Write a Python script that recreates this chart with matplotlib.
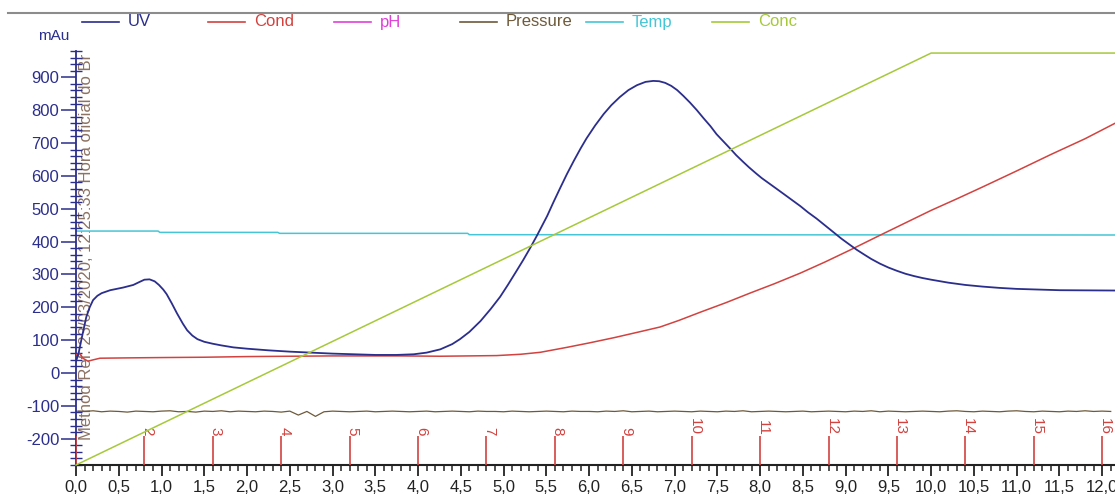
import matplotlib
matplotlib.use("Agg")
import matplotlib.pyplot as plt
from matplotlib.lines import Line2D
from matplotlib.ticker import MultipleLocator, FixedLocator

# ---------------- data ----------------
uv_t = [0.0, 0.03, 0.07, 0.12, 0.16, 0.2, 0.25, 0.3, 0.4, 0.55, 0.67, 0.75, 0.8, 0.86, 0.92,
        0.97, 1.02, 1.06, 1.12, 1.18, 1.25, 1.3, 1.36, 1.42, 1.5, 1.6, 1.7, 1.84, 2.0, 2.25,
        2.5, 2.75, 3.0, 3.25, 3.5, 3.75, 3.95, 4.1, 4.26, 4.4, 4.49, 4.6, 4.73, 4.85, 4.96,
        5.05, 5.15, 5.23, 5.31, 5.39, 5.45, 5.51, 5.58, 5.66, 5.74, 5.82, 5.9, 5.97, 6.07, 6.17,
        6.26, 6.36, 6.46, 6.56, 6.66, 6.75, 6.82, 6.89, 6.96, 7.03, 7.1, 7.18, 7.26, 7.34, 7.42,
        7.49, 7.57, 7.65, 7.72, 7.8, 7.87, 7.95, 8.02, 8.1, 8.18, 8.27, 8.37, 8.47, 8.56, 8.66,
        8.76, 8.86, 8.95, 9.05, 9.13, 9.22, 9.3, 9.4, 9.5, 9.6, 9.7, 9.8, 9.9, 10.0, 10.2,
        10.4, 10.6, 10.8, 11.0, 11.5, 12.15]
uv_v = [35, 60, 110, 170, 200, 222, 235, 243, 252, 260, 268, 278, 284, 285, 279,
        268, 254, 240, 212, 182, 150, 130, 114, 103, 95, 89, 84, 78, 74, 69,
        65, 62, 59, 57, 55, 55, 57, 62, 72, 88, 103, 125, 158, 195, 232,
        268, 310, 344, 380, 418, 448, 478, 518, 562, 605, 645, 683, 714, 753, 788,
        815, 840, 861, 876, 886, 889, 888, 883, 874, 861, 844, 823, 800, 775, 751,
        727, 705, 683, 663, 643, 626, 608, 593, 578, 563, 546, 527, 508, 489, 470,
        449, 428, 409, 390, 375, 360, 347, 333, 321, 311, 302, 295, 289, 284, 275,
        268, 263, 259, 256, 252, 251]

cond_t = [0.0, 0.04, 0.08, 0.14, 0.2, 0.28, 0.6, 1.0, 1.5, 2.0, 2.5, 3.0, 3.8, 4.26, 4.92,
          5.2, 5.43, 5.74, 6.01, 6.3, 6.6, 6.83, 7.05, 7.3, 7.6, 7.88, 8.17, 8.47, 8.76, 9.05,
          9.4, 9.7, 10.0, 10.3, 10.6, 11.0, 11.4, 11.8, 12.15]
cond_v = [55, 60, 45, 36, 40, 45, 46, 47, 48, 50, 51, 52, 52, 51, 53,
          57, 63, 78, 92, 108, 126, 140, 160, 185, 214, 243, 272, 304, 338, 374,
          419, 457, 495, 530, 566, 615, 665, 713, 760]

temp_t = [0.0, 0.96, 0.98, 2.36, 2.38, 4.58, 4.6, 12.15]
temp_v = [432, 432, 428, 428, 425, 425, 421, 420]

pres_t = [i / 10 for i in range(0, 122)]
pres_v = [-116, -117, -115, -118, -116, -117, -119, -116, -117, -118,
          -116, -115, -118, -117, -119, -116, -117, -115, -118, -116,
          -117, -118, -116, -117, -119, -116, -128, -117, -132, -118,
          -116, -117, -118, -117, -116, -118, -117, -116, -117, -118,
          -117, -116, -118, -117, -116, -117, -118, -116, -117, -117,
          -118, -116, -117, -118, -117, -116, -117, -118, -116, -117,
          -117, -118, -116, -117, -115, -118, -117, -116, -118, -117,
          -116, -117, -118, -116, -117, -118, -116, -117, -115, -118,
          -117, -116, -117, -118, -117, -116, -118, -117, -116, -117,
          -118, -116, -117, -115, -118, -116, -117, -118, -117, -116,
          -117, -118, -116, -115, -117, -118, -116, -117, -118, -116,
          -115, -117, -118, -116, -117, -118, -116, -117, -115, -117,
          -116, -117]

conc_t = [0.0, 10.0, 12.15]
conc_v = [0.0, 100.0, 100.0]

frac_t = [0.0, 0.8, 1.6, 2.4, 3.2, 4.0, 4.8, 5.6, 6.4, 7.2, 8.0, 8.8, 9.6, 10.4, 11.2, 12.0]
frac_labels = ["1", "2", "3", "4", "5", "6", "7", "8", "9", "10", "11", "12", "13", "14", "15", "16"]

x_ticks = [i * 0.5 for i in range(25)]
x_ticklabels = [f"{v:.1f}".replace(".", ",") for v in x_ticks]
y_ticks = list(range(-200, 1000, 100))
y_ticklabels = [str(v) for v in y_ticks]

series_names = ["UV", "Cond", "pH", "Pressure", "Temp", "Conc"]
series_colors = ["#2B2E8C", "#D2423F", "#E040D8", "#6E5A3A", "#45C6D6", "#A6C93A"]
c_uv, c_cond, c_ph, c_pres, c_temp, c_conc = series_colors

# ---------------- figure ----------------
fig = plt.figure(figsize=(11.15, 4.95), dpi=100)
ax = fig.add_axes([76 / 1115, 30 / 495, 1039 / 1115, 414 / 495])
ax.set_xlim(0, 12.15)
ax.set_ylim(-280, 980)

lw = 1.1
ax.plot(temp_t, temp_v, color=c_temp, lw=lw, zorder=2)
ax.plot(pres_t, pres_v, color=c_pres, lw=0.9, zorder=2)
ax.plot(cond_t, cond_v, color=c_cond, lw=lw, zorder=3)
ax.plot(uv_t, uv_v, color=c_uv, lw=1.3, zorder=4)

ax2 = ax.twinx()
ax2.set_ylim(0, 100.5)
ax2.plot(conc_t, conc_v, color=c_conc, lw=lw, zorder=2, clip_on=False)
ax2.set_axis_off()

# fraction marks
ax.vlines(frac_t, -280, -193, color=c_cond, lw=1.2, zorder=3)
for t, lab in zip(frac_t[1:], frac_labels[1:]):
    ax.text(t + 0.035, -190, lab, rotation=-90, ha="center", va="bottom",
            color=c_cond, fontsize=11, family="Liberation Sans")

# run annotation
ax.text(0.03, -205, "Method Ref. 23/03/2020, 12:25:33 Hora oficial do Br",
        rotation=90, rotation_mode="anchor", ha="left", va="top",
        color="#8C7262", fontsize=12, family="Liberation Sans", clip_on=True, zorder=1)

# spines
for s in ["top", "right"]:
    ax.spines[s].set_visible(False)
ax.spines["left"].set_color(c_uv)
ax.spines["left"].set_linewidth(1.3)
ax.spines["bottom"].set_color("#222222")
ax.spines["bottom"].set_linewidth(1.5)

ax.xaxis.set_major_locator(FixedLocator(x_ticks))
ax.set_xticklabels(x_ticklabels, fontsize=12, family="Liberation Sans", color="#222222")
ax.xaxis.set_minor_locator(MultipleLocator(0.1))
ax.tick_params(axis="x", which="major", direction="out", length=8, width=1.3, color="#222222", pad=3)
ax.tick_params(axis="x", which="minor", direction="out", length=4.5, width=1.1, color="#222222")

ax.yaxis.set_major_locator(FixedLocator(y_ticks))
ax.set_yticklabels(y_ticklabels, fontsize=12, family="Liberation Sans", color=c_uv)
ax.yaxis.set_minor_locator(MultipleLocator(20))
ax.tick_params(axis="y", which="major", direction="out", length=11, width=1.1, color=c_uv, pad=1)
ax.tick_params(axis="y", which="minor", direction="inout", length=9, width=1.0, color=c_uv)

fig.text(38 / 1115, 1 - 36 / 495, "mAu", color=c_uv, fontsize=11,
         family="Liberation Sans", va="center", ha="left")

# top frame line
fig.add_artist(Line2D([8 / 1115, 1.0], [1 - 13 / 495, 1 - 13 / 495],
                      color="#8C8C8C", lw=1.5, transform=fig.transFigure))

# legend row
ly = 1 - 22 / 495
for i, (name, col) in enumerate(zip(series_names, series_colors)):
    x0 = 82 + i * 126
    fig.add_artist(Line2D([x0 / 1115, (x0 + 37) / 1115], [ly, ly], color=col, lw=1.2,
                          transform=fig.transFigure))
    fig.text((x0 + 46) / 1115, ly, name, color=col, fontsize=12,
             family="Liberation Sans", va="center", ha="left")

fig.savefig("out.png", dpi=100)
